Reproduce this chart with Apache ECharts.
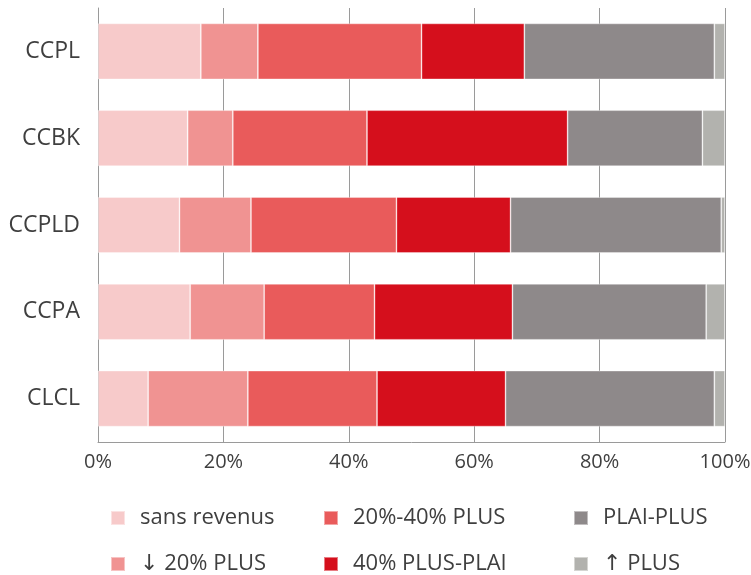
<!DOCTYPE html>
<html>
<head>
<meta charset="utf-8">
<script src="https://cdn.jsdelivr.net/npm/echarts@6/dist/echarts.min.js"></script>
<style>
  html, body { margin: 0; padding: 0; background: #fff; }
  #chart { width: 751px; height: 575px; }
</style>
</head>
<body>
<div id="chart"></div>
<script>
// Share of households per income bracket, by territory (stacked to 100 %)
const categories = ['CCPL', 'CCBK', 'CCPLD', 'CCPA', 'CLCL'];
const seriesNames = ['sans revenus', '↓ 20% PLUS', '20%-40% PLUS', '40% PLUS-PLAI', 'PLAI-PLUS', '↑ PLUS'];
const sansRevenus  = [16.4, 14.3, 13.0, 14.7, 8.0];
const moins20Plus  = [9.1, 7.2, 11.4, 11.8, 15.9];
const plus20a40    = [26.1, 21.4, 23.2, 17.6, 20.6];
const plus40Plai   = [16.4, 32.0, 18.2, 22.0, 20.5];
const plaiPlus     = [30.3, 21.5, 33.6, 30.9, 33.3];
const audelaPlus   = [1.7, 3.6, 0.6, 3.0, 1.7];
const xTicks = [0, 20, 40, 60, 80, 100];

const seriesValues = [sansRevenus, moins20Plus, plus20a40, plus40Plai, plaiPlus, audelaPlus];
const colors = ['#F7CACA', '#F09392', '#E95B5B', '#D50F1C', '#8E898A', '#B2B2AE'];
const textColor = '#3f3f3f';
const fontFamily = '"Open Sans", "Noto Sans", "DejaVu Sans", sans-serif';

// legend laid out as a 3-column, 2-row grid
const legendCols = [110, 323, 573];
const legendRows = [506, 552];

const chart = echarts.init(document.getElementById('chart'), null, { renderer: 'canvas' });

const legends = seriesNames.map((name, i) => ({
  orient: 'horizontal',
  left: legendCols[Math.floor(i / 2)],
  top: legendRows[i % 2],
  padding: 0,
  itemWidth: 14,
  itemHeight: 14,
  icon: 'rect',
  selectedMode: false,
  data: [name],
  textStyle: {
    color: textColor,
    fontSize: 22,
    lineHeight: 24,
    fontFamily: fontFamily,
    padding: [0, 0, 0, 10]
  }
}));

chart.setOption({
  animation: false,
  color: colors,
  textStyle: { fontFamily: fontFamily },
  grid: {
    left: 98, right: 26, top: 8, bottom: 133,
    containLabel: false,
    outerBoundsMode: 'none'
  },
  legend: legends,
  xAxis: {
    type: 'value',
    min: xTicks[0],
    max: xTicks[xTicks.length - 1],
    interval: 20,
    axisLine: { show: true, lineStyle: { color: '#9a9a9a', width: 1 } },
    axisTick: { show: false },
    splitLine: { show: true, lineStyle: { color: '#9a9a9a', width: 1 } },
    axisLabel: {
      color: textColor,
      fontSize: 20,
      margin: 10,
      fontFamily: fontFamily,
      formatter: '{value}%'
    }
  },
  yAxis: {
    type: 'category',
    inverse: true,
    data: categories,
    axisLine: { show: true, lineStyle: { color: '#9a9a9a', width: 1 } },
    axisTick: { show: false },
    axisLabel: {
      color: textColor,
      fontSize: 23,
      margin: 18,
      fontFamily: fontFamily
    }
  },
  series: seriesNames.map((name, i) => ({
    name: name,
    type: 'bar',
    stack: 'total',
    barWidth: 56,
    data: seriesValues[i],
    itemStyle: {
      color: colors[i],
      borderColor: 'rgba(255,255,255,0.45)',
      borderWidth: 0.8
    }
  }))
});
</script>
</body>
</html>
